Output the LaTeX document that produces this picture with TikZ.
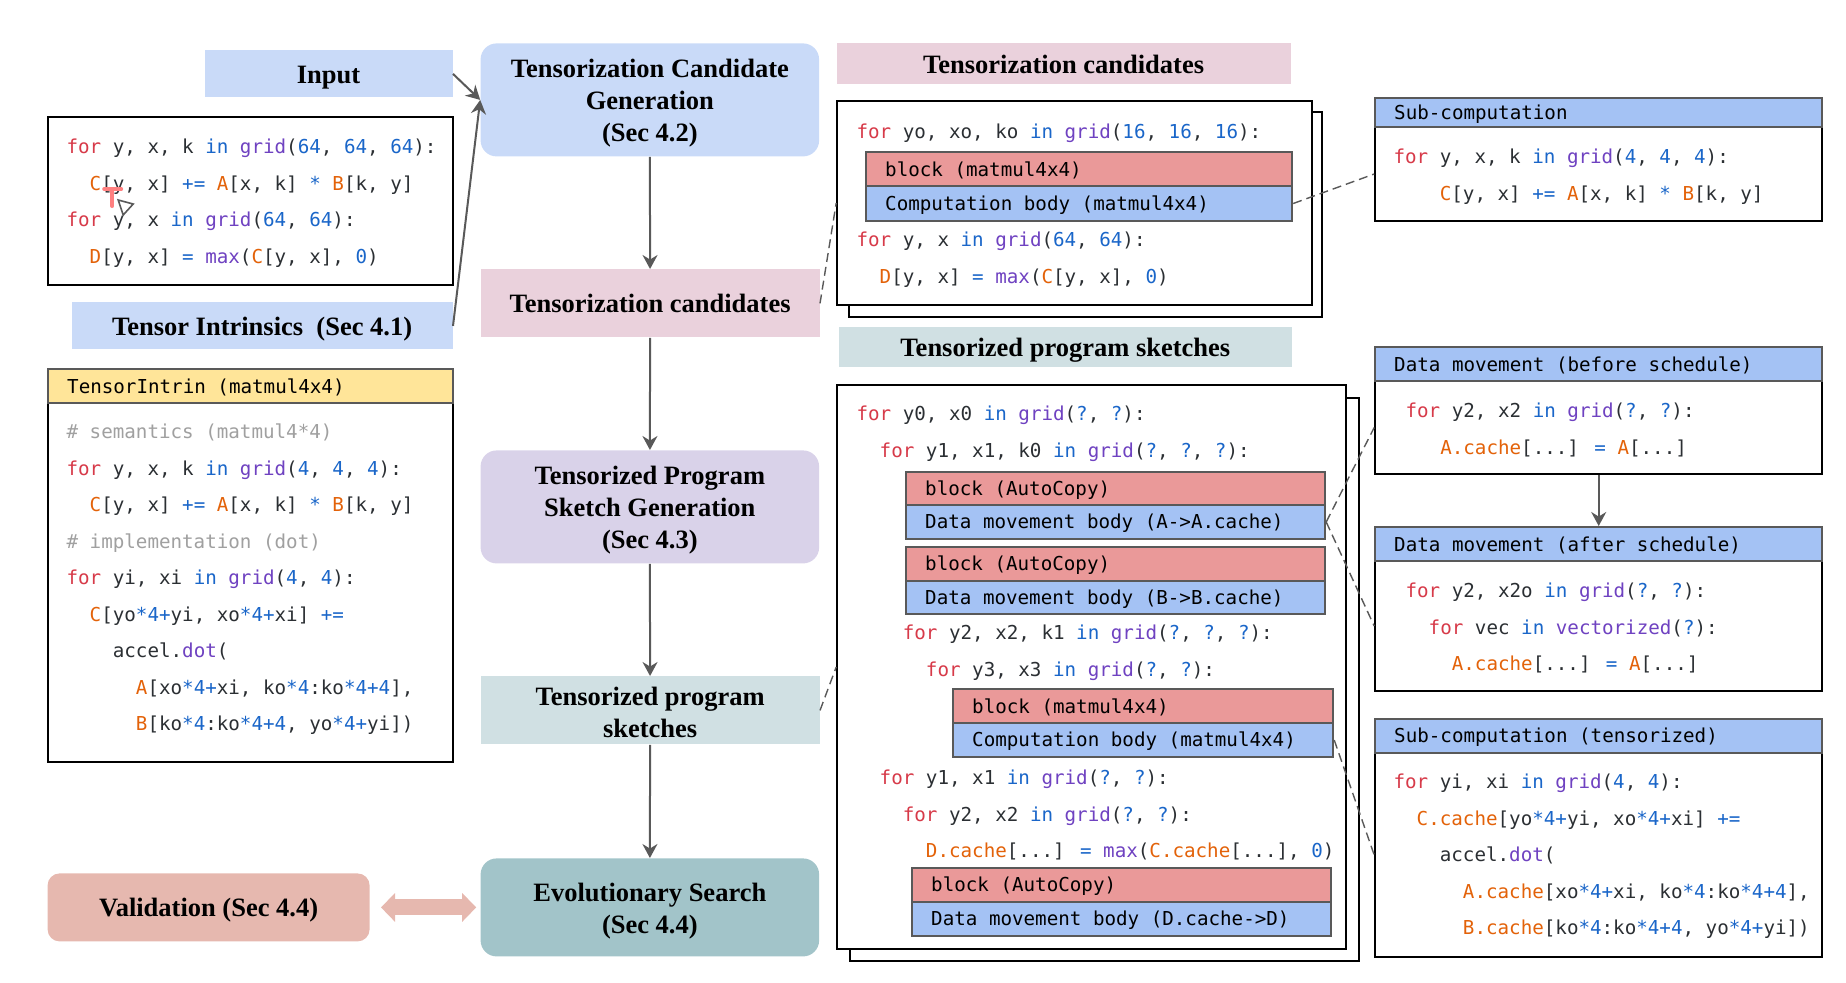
\documentclass[tikz,border=0pt]{standalone}
\usepackage{xcolor}
\usepackage{fontspec}
\usepackage{tikz}
\usetikzlibrary{
  positioning,
  arrows.meta
}

\setmainfont{Liberation Serif}
\newfontfamily\codefont{DejaVu Sans Mono}

\definecolor{inkgray}{HTML}{595959}
\definecolor{flowblue}{HTML}{C9DAF8}
\definecolor{flowpink}{HTML}{EAD1DC}
\definecolor{flowpurple}{HTML}{D9D2E9}
\definecolor{flowpale}{HTML}{D0E0E3}
\definecolor{flowteal}{HTML}{A2C4C9}
\definecolor{flowrose}{HTML}{E6B8AF}
\definecolor{barred}{HTML}{EA9999}
\definecolor{barblue}{HTML}{A4C2F4}
\definecolor{baryellow}{HTML}{FFE599}
\definecolor{codeink}{HTML}{2B2F33}
\definecolor{codekw}{HTML}{D73A49}
\definecolor{codeop}{HTML}{1A66C9}
\definecolor{codefn}{HTML}{6F42C1}
\definecolor{codevar}{HTML}{E36209}
\definecolor{codecom}{HTML}{A0A0A0}

\newcommand{\ckw}[1]{\textcolor{codekw}{#1}}
\newcommand{\cop}[1]{\textcolor{codeop}{#1}}
\newcommand{\cfn}[1]{\textcolor{codefn}{#1}}
\newcommand{\cvar}[1]{\textcolor{codevar}{#1}}
\newcommand{\ccom}[1]{\textcolor{codecom}{#1}}

\tikzset{
  title/.style 2 args={anchor=north west,inner sep=0,align=center,
    minimum width=#1*0.5pt,minimum height=#2*0.5pt,
    font=\bfseries\fontsize{13.25}{16}\selectfont,
    execute at begin node={\rule[-2.8pt]{0pt}{14.8pt}}},
  titlelift/.style={execute at begin node={\rule[-2.8pt]{0pt}{#1}}},
  roundtitle/.style 2 args={title={#1}{#2},rounded corners=8pt},
  codebox/.style 2 args={draw=black,line width=1pt,fill=white,anchor=north west,
    inner sep=0,minimum width=#1*0.5pt,minimum height=#2*0.5pt},
  codebar/.style 2 args={draw=inkgray,line width=1pt,anchor=north west,
    inner xsep=9.5pt,inner ysep=0,text=black,align=flush left,
    /utils/exec={\pgfmathsetlengthmacro\barwidth{(#1-38)*0.5pt}},
    text width=\barwidth,minimum height=#2*0.5pt,
    font=\codefont\fontsize{9.6}{11}\selectfont,
    execute at begin node={\rule{0pt}{8.7pt}}},
  codetext/.style={anchor=north west,inner sep=0,yshift=4.2pt,align=left,text=codeink,
    font=\codefont\fontsize{9.6}{18.25}\selectfont,execute at begin node=\strut},
  flowline/.style={draw=inkgray,line width=1pt,->,>={Stealth[length=7pt,width=7.5pt]}},
  dashline/.style={draw=inkgray,line width=0.7pt,dash pattern=on 4.5pt off 2.5pt}
}

\begin{document}
\begin{tikzpicture}[x=0.5pt,y=-0.5pt]
  \useasboundingbox (0.8,0) rectangle (1846.8,982);

  % flow column
  \node[roundtitle={338.5}{113},titlelift=47.6pt,fill=flowblue] (gen) at (481,43)
    {Tensorization Candidate\\Generation\\(Sec 4.2)};
  \node[title={339}{68},fill=flowpink] (cand) at (481,269) {Tensorization candidates};
  \node[roundtitle={338.5}{113},titlelift=47.6pt,fill=flowpurple] (sketchgen) at (481,450)
    {Tensorized Program\\Sketch Generation\\(Sec 4.3)};
  \node[title={339}{68},titlelift=32.5pt,fill=flowpale] (sketch) at (481,676) {Tensorized program\\sketches};
  \node[roundtitle={338.5}{98},titlelift=31.6pt,fill=flowteal] (evol) at (481,858)
    {Evolutionary Search\\(Sec 4.4)};
  \node[roundtitle={322}{68},fill=flowrose,rounded corners=6pt] (valid) at (48,873)
    {Validation (Sec 4.4)};

  % input side
  \node[title={248}{47},fill=flowblue] (input) at (205,50) {Input};
  \node[title={381}{47},fill=flowblue] (intrin) at (72,302) {Tensor Intrinsics\ \ (Sec 4.1)};

  \node[codebox={405}{168}] (inputbox) at (48,116) {};
  \node[codetext] (inputcode) at (67,147) {%
    \ckw{for} y, x, k \cop{in} \cfn{grid}(\cop{64}, \cop{64}, \cop{64}):\\
    ~~\cvar{C}[y, x] \cop{+=} \cvar{A}[x, k] \cop{*} \cvar{B}[k, y]\\
    \ckw{for} y, x \cop{in} \cfn{grid}(\cop{64}, \cop{64}):\\
    ~~\cvar{D}[y, x] \cop{=} \cfn{max}(\cvar{C}[y, x], \cop{0})};

  % cursor
  \draw[line width=2pt,color=red!50,line cap=round] (105,189) -- (122,189) (113,189) -- (113,206);
  \draw[line width=0.8pt,color=inkgray,fill=white] (119,200) -- (134,204) -- (124,215) -- cycle;

  \node[codebox={405}{393}] (intrinbox) at (48,368) {};
  \node[codebar={405}{34},fill=baryellow] (intrinbar) at (48,368) {TensorIntrin (matmul4x4)};
  \node[codetext] (intrincode) at (67,432) {%
    \ccom{\# semantics (matmul4*4)}\\
    \ckw{for} y, x, k \cop{in} \cfn{grid}(\cop{4}, \cop{4}, \cop{4}):\\
    ~~\cvar{C}[y, x] \cop{+=} \cvar{A}[x, k] \cop{*} \cvar{B}[k, y]\\
    \ccom{\# implementation (dot)}\\
    \ckw{for} yi, xi \cop{in} \cfn{grid}(\cop{4}, \cop{4}):\\
    ~~\cvar{C}[yo\cop{*4+}yi, xo\cop{*4+}xi] \cop{+=}\\
    ~~~~accel.\cfn{dot}(\\
    ~~~~~~\cvar{A}[xo\cop{*4+}xi, ko\cop{*4}:ko\cop{*4+4}],\\
    ~~~~~~\cvar{B}[ko\cop{*4}:ko\cop{*4+4}, yo\cop{*4+}yi])};

  % tensorization candidates
  \node[title={454}{41},fill=flowpink] (candtitle) at (837,43) {Tensorization candidates};
  \node[codebox={473}{205}] (candback) at (849,111) {};
  \node[codebox={474.5}{204}] (candbox) at (837,100) {};
  \node[codetext] (candcodea) at (857,120.5) {%
    \ckw{for} yo, xo, ko \cop{in} \cfn{grid}(\cop{16}, \cop{16}, \cop{16}):};
  \node[codebar={426}{34},fill=barred] (candblock) at (866,151) {block (matmul4x4)};
  \node[codebar={426}{35},fill=barblue] (candbody) at (866,185) {Computation body (matmul4x4)};
  \node[codetext] (candcodeb) at (857,240) {%
    \ckw{for} y, x \cop{in} \cfn{grid}(\cop{64}, \cop{64}):\\
    ~~\cvar{D}[y, x] \cop{=} \cfn{max}(\cvar{C}[y, x], \cop{0})};

  % tensorized program sketches
  \node[title={453.5}{40},fill=flowpale] (sketchtitle) at (839,327) {Tensorized program sketches};
  \node[codebox={509}{563}] (sketchback) at (850,397) {};
  \node[codebox={509}{564}] (sketchbox) at (837,384) {};
  \node[codetext] (sketchcodea) at (857,414) {%
    \ckw{for} y0, x0 \cop{in} \cfn{grid}(\cop{?}, \cop{?}):\\
    ~~\ckw{for} y1, x1, k0 \cop{in} \cfn{grid}(\cop{?}, \cop{?}, \cop{?}):};
  \node[codebar={419}{33},fill=barred] (ablock) at (906,471) {block (AutoCopy)};
  \node[codebar={419}{34},fill=barblue] (abody) at (906,504) {Data movement body (A->A.cache)};
  \node[codebar={419}{34},fill=barred] (bblock) at (906,546) {block (AutoCopy)};
  \node[codebar={419}{33},fill=barblue] (bbody) at (906,580) {Data movement body (B->B.cache)};
  \node[codetext] (sketchcodeb) at (857,633) {%
    ~~~~\ckw{for} y2, x2, k1 \cop{in} \cfn{grid}(\cop{?}, \cop{?}, \cop{?}):\\
    ~~~~~~\ckw{for} y3, x3 \cop{in} \cfn{grid}(\cop{?}, \cop{?}):};
  \node[codebar={380}{34},fill=barred] (cblock) at (953,688) {block (matmul4x4)};
  \node[codebar={380}{34},fill=barblue] (cbody) at (953,722) {Computation body (matmul4x4)};
  \node[codetext] (sketchcodec) at (857,778) {%
    ~~\ckw{for} y1, x1 \cop{in} \cfn{grid}(\cop{?}, \cop{?}):\\
    ~~~~\ckw{for} y2, x2 \cop{in} \cfn{grid}(\cop{?}, \cop{?}):\\
    ~~~~~~\cvar{D.cache}[...] \cop{=} \cfn{max}(\cvar{C.cache}[...], \cop{0})};
  \node[codebar={418.5}{34},fill=barred] (dblock) at (912,867) {block (AutoCopy)};
  \node[codebar={418.5}{34},fill=barblue] (dbody) at (912,901) {Data movement body (D.cache->D)};

  % right column
  \node[codebox={447}{94}] (subbox) at (1375,126) {};
  \node[codebar={447}{29},fill=barblue] (subbar) at (1375,97) {Sub-computation};
  \node[codetext] (subcode) at (1394,157) {%
    \ckw{for} y, x, k \cop{in} \cfn{grid}(\cop{4}, \cop{4}, \cop{4}):\\
    ~~~~\cvar{C}[y, x] \cop{+=} \cvar{A}[x, k] \cop{*} \cvar{B}[k, y]};

  \node[codebox={447}{93}] (beforebox) at (1375,380) {};
  \node[codebar={447}{34},fill=barblue] (beforebar) at (1375,346) {Data movement (before schedule)};
  \node[codetext] (beforecode) at (1406,411) {%
    \ckw{for} y2, x2 \cop{in} \cfn{grid}(\cop{?}, \cop{?}):\\
    ~~~\cvar{A.cache}[...] \cop{=} \cvar{A}[...]};

  \node[codebox={447}{130}] (afterbox) at (1375,560) {};
  \node[codebar={447}{34},fill=barblue] (afterbar) at (1375,526) {Data movement (after schedule)};
  \node[codetext] (aftercode) at (1406,591) {%
    \ckw{for} y2, x2o \cop{in} \cfn{grid}(\cop{?}, \cop{?}):\\
    ~~\ckw{for} vec \cop{in} \cfn{vectorized}(\cop{?}):\\
    ~~~~\cvar{A.cache}[...] \cop{=} \cvar{A}[...]};

  \node[codebox={447}{204}] (tensorbox) at (1375,752) {};
  \node[codebar={447}{34},fill=barblue] (tensorbar) at (1375,718) {Sub-computation (tensorized)};
  \node[codetext] (tensorcode) at (1394,782) {%
    \ckw{for} yi, xi \cop{in} \cfn{grid}(\cop{4}, \cop{4}):\\
    ~~\cvar{C.cache}[yo\cop{*4+}yi, xo\cop{*4+}xi] \cop{+=}\\
    ~~~~accel.\cfn{dot}(\\
    ~~~~~~\cvar{A.cache}[xo\cop{*4+}xi, ko\cop{*4}:ko\cop{*4+4}],\\
    ~~~~~~\cvar{B.cache}[ko\cop{*4}:ko\cop{*4+4}, yo\cop{*4+}yi])};

  % arrows
  \draw[flowline] (input.east) -- (gen.west);
  \draw[flowline] (intrin.east) -- (gen.west);
  \draw[flowline] (gen) -- (cand);
  \draw[flowline] (cand) -- (sketchgen);
  \draw[flowline] (sketchgen) -- (sketch);
  \draw[flowline] (sketch) -- (evol);
  \draw[flowline] (beforebox) -- (afterbar);
  \draw[draw=flowrose,line width=8pt,{Triangle[length=7pt,width=14pt]}-{Triangle[length=7pt,width=14pt]},
    shorten <=5.5pt,shorten >=2pt] (valid.east) -- (evol.west);

  % dashed links
  \draw[dashline] (cand.east) -- (candbox.west);
  \draw[dashline] (sketch.east) -- (sketchbox.west);
  \draw[dashline] (candbody.east) -- (subbox.west);
  \draw[dashline] (abody.east) -- (beforebox.west);
  \draw[dashline] (abody.east) -- (afterbox.west);
  \draw[dashline] (cbody.east) -- (tensorbox.west);
\end{tikzpicture}
\end{document}
